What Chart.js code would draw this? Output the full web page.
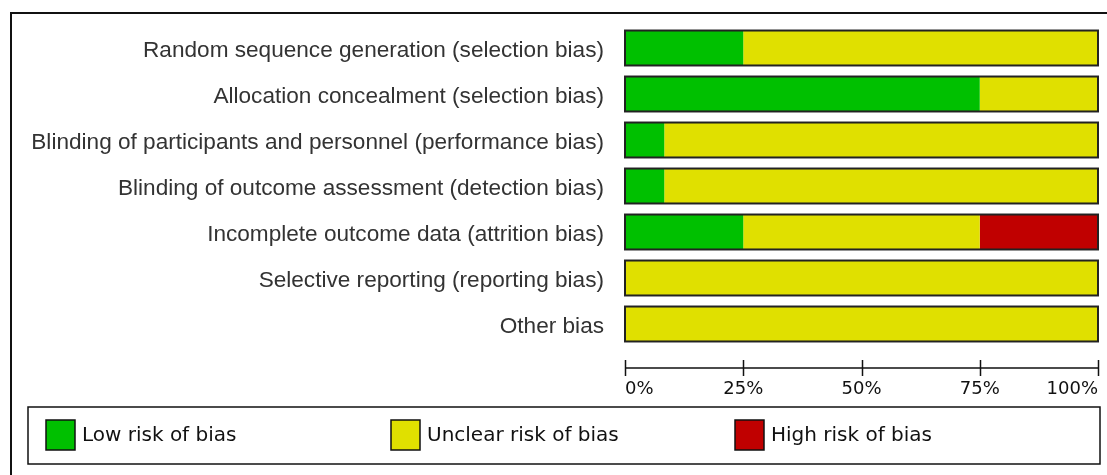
<!DOCTYPE html>
<html>
<head>
<meta charset="utf-8">
<script src="https://cdn.jsdelivr.net/npm/chart.js@4.4.1/dist/chart.umd.min.js"></script>
<style>
  html, body { margin: 0; padding: 0; background: #fff; }
  #wrap { width: 1107px; height: 475px; }
</style>
</head>
<body>
<div id="wrap"><canvas id="biasChart"></canvas></div>
<script>
// risk of bias summary, percent of studies
const domains = [
    "Random sequence generation (selection bias)",
    "Allocation concealment (selection bias)",
    "Blinding of participants and personnel (performance bias)",
    "Blinding of outcome assessment (detection bias)",
    "Incomplete outcome data (attrition bias)",
    "Selective reporting (reporting bias)",
    "Other bias"
];
const lowRisk     = [25, 75, 8.3, 8.3, 25, 0, 0];
const unclearRisk = [75, 25, 91.7, 91.7, 50, 100, 100];
const highRisk    = [0, 0, 0, 0, 25, 0, 0];
const tickValues  = [0, 25, 50, 75, 100];

const GREEN = "#00C000";
const YELLOW = "#E0E000";
const RED = "#C00000";

// outer frame + one outline per stacked bar + the axis under the bars
const framePlugin = {
    id: "frame",
    beforeDraw(chart) {
        const ctx = chart.ctx;
        ctx.save();
        ctx.strokeStyle = "#111";
        ctx.lineWidth = 2;
        ctx.beginPath();
        ctx.moveTo(11, chart.height + 5);
        ctx.lineTo(11, 13);
        ctx.lineTo(chart.width + 5, 13);
        ctx.stroke();
        ctx.restore();
    },
    afterDatasetsDraw(chart) {
        const ctx = chart.ctx;
        const xs = chart.scales.x;
        const meta = chart.getDatasetMeta(0);
        ctx.save();
        ctx.strokeStyle = "#222";
        ctx.lineWidth = 2;
        meta.data.forEach((el, i) => {
            const total = lowRisk[i] + unclearRisk[i] + highRisk[i];
            const x0 = xs.getPixelForValue(0);
            const x1 = xs.getPixelForValue(total);
            ctx.strokeRect(x0, el.y - el.height / 2, x1 - x0, el.height);
        });

        // axis line with tick marks
        const axisY = 368;
        ctx.strokeStyle = "#111";
        ctx.lineWidth = 1.5;
        ctx.beginPath();
        ctx.moveTo(xs.getPixelForValue(0), axisY);
        ctx.lineTo(xs.getPixelForValue(100), axisY);
        tickValues.forEach(v => {
            const px = Math.round(xs.getPixelForValue(v)) + 0.5;
            ctx.moveTo(px, axisY - 8);
            ctx.lineTo(px, axisY + 8);
        });
        ctx.stroke();
        ctx.restore();
    },
    afterDraw(chart) {
        // legend box along the bottom
        const ctx = chart.ctx;
        ctx.save();
        ctx.strokeStyle = "#111";
        ctx.lineWidth = 1.5;
        ctx.strokeRect(28, 407, 1072, 57);
        const slots = [46, 391, 735];
        ctx.font = "20px 'DejaVu Sans'";
        ctx.textBaseline = "middle";
        chart.data.datasets.forEach((ds, i) => {
            const x = slots[i];
            ctx.fillStyle = ds.backgroundColor;
            ctx.fillRect(x, 420, 29, 30);
            ctx.strokeStyle = "#111";
            ctx.lineWidth = 1.5;
            ctx.strokeRect(x, 420, 29, 30);
            ctx.fillStyle = "#111";
            ctx.fillText(ds.label, x + 36, 436);
        });
        ctx.restore();
    }
};

new Chart(document.getElementById("biasChart"), {
    type: "bar",
    data: {
        labels: domains,
        datasets: [
            { label: "Low risk of bias", data: lowRisk, backgroundColor: GREEN },
            { label: "Unclear risk of bias", data: unclearRisk, backgroundColor: YELLOW },
            { label: "High risk of bias", data: highRisk, backgroundColor: RED }
        ]
    },
    options: {
        indexAxis: "y",
        responsive: true,
        maintainAspectRatio: false,
        animation: false,
        layout: { padding: { left: 0, right: 9, top: 25, bottom: 78 } },
        datasets: {
            bar: { categoryPercentage: 1, barPercentage: 0.76, borderWidth: 0 }
        },
        plugins: {
            legend: { display: false },
            tooltip: {
                callbacks: { label: c => c.dataset.label + ": " + c.raw + "%" }
            }
        },
        scales: {
            x: {
                stacked: true,
                min: 0,
                max: 100,
                afterBuildTicks: s => { s.ticks = tickValues.map(v => ({ value: v })); },
                afterFit: s => { s.height = 50; },
                grid: { display: true, drawOnChartArea: false, drawTicks: true, tickLength: 30, color: "rgba(0,0,0,0)" },
                border: { display: false },
                ticks: {
                    align: "inner",
                    padding: 2,
                    color: "#111",
                    font: { family: "'DejaVu Sans'", size: 18 },
                    callback: v => v + "%"
                }
            },
            y: {
                stacked: true,
                afterFit: s => { s.width = 625; s.paddingTop = 0; s.paddingBottom = 0; },
                grid: { display: false, drawTicks: false },
                border: { display: false },
                ticks: {
                    padding: 21,
                    labelOffset: 3,
                    color: "#333",
                    font: { family: "'Liberation Sans'", size: 22.6 }
                }
            }
        }
    },
    plugins: [framePlugin]
});
</script>
</body>
</html>
